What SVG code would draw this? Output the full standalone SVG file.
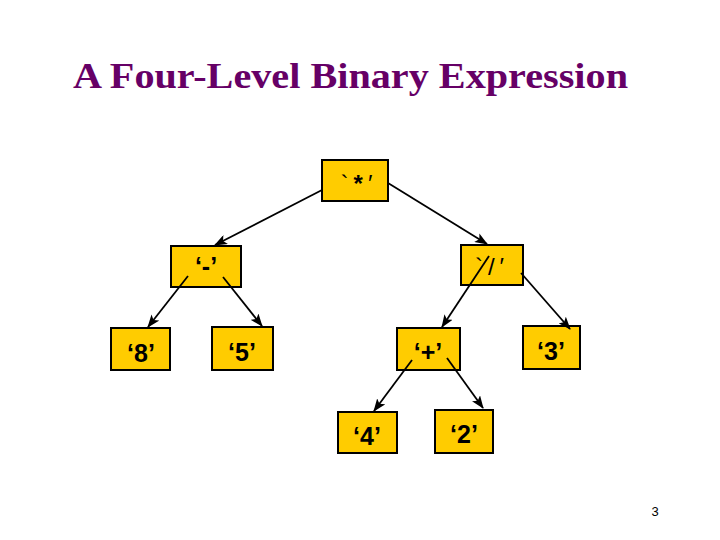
<svg xmlns="http://www.w3.org/2000/svg" width="720" height="540" viewBox="0 0 720 540">
<style>
.box{fill:#FFCC00;stroke:#000;stroke-width:2}
.lbl{font-family:"Liberation Sans",Arial,sans-serif;font-weight:bold;font-size:25px;fill:#000;text-anchor:middle}
.op{font-family:"Liberation Sans",Arial,sans-serif;font-size:24px;fill:#000;text-anchor:middle;letter-spacing:5px}
.edge{stroke:#000;stroke-width:1.8;fill:none;marker-end:url(#arr)}
</style>
<defs>
<marker id="arr" markerUnits="userSpaceOnUse" markerWidth="13" markerHeight="10" refX="12" refY="5" orient="auto">
<path d="M0,0 L13,5 L0,10 L3,5 Z" fill="#000"/>
</marker>
</defs>
<rect width="720" height="540" fill="#fff"/>
<text x="73" y="88" textLength="555" lengthAdjust="spacingAndGlyphs" style="font-family:'Liberation Serif','Times New Roman',serif;font-weight:bold;font-size:36px;fill:#660066">A Four-Level Binary Expression</text>
<g id="n-mul"><rect class="box" x="322" y="160" width="66" height="41"/><text class="op" x="359" y="192">`<tspan font-weight="bold">*</tspan>′</text></g>
<g id="n-sub"><rect class="box" x="171" y="246" width="70" height="41"/><text class="lbl" x="206" y="275">‘-’</text></g>
<g id="n-div"><rect class="box" x="461" y="245" width="62" height="40"/><text class="op" x="492" y="275">`/′</text></g>
<g id="n-8"><rect class="box" x="111" y="328" width="59" height="42"/><text class="lbl" x="141" y="362">‘8’</text></g>
<g id="n-5"><rect class="box" x="212" y="327" width="61" height="43"/><text class="lbl" x="242" y="361">‘5’</text></g>
<g id="n-add"><rect class="box" x="397" y="328" width="63" height="42"/><text class="lbl" x="428" y="361">‘+’</text></g>
<g id="n-3"><rect class="box" x="523" y="326" width="57" height="43"/><text class="lbl" x="551" y="360">‘3’</text></g>
<g id="n-4"><rect class="box" x="338" y="412" width="59" height="41"/><text class="lbl" x="367" y="445">‘4’</text></g>
<g id="n-2"><rect class="box" x="435" y="410" width="58" height="43"/><text class="lbl" x="464" y="443">‘2’</text></g>
<g id="connectors">
<line class="edge" x1="322" y1="190" x2="215" y2="245"/>
<line class="edge" x1="388" y1="183" x2="487" y2="244"/>
<line class="edge" x1="188" y1="276" x2="148" y2="327"/>
<line class="edge" x1="223" y1="277" x2="262" y2="326"/>
<line class="edge" x1="489" y1="256" x2="442" y2="327"/>
<line class="edge" x1="521" y1="273" x2="570" y2="329"/>
<line class="edge" x1="412" y1="360" x2="374" y2="411"/>
<line class="edge" x1="447" y1="358" x2="483" y2="408"/>
</g>
<text x="655" y="516" style="font-family:'Liberation Sans',Arial,sans-serif;font-size:13px;fill:#000;text-anchor:middle">3</text>
</svg>
